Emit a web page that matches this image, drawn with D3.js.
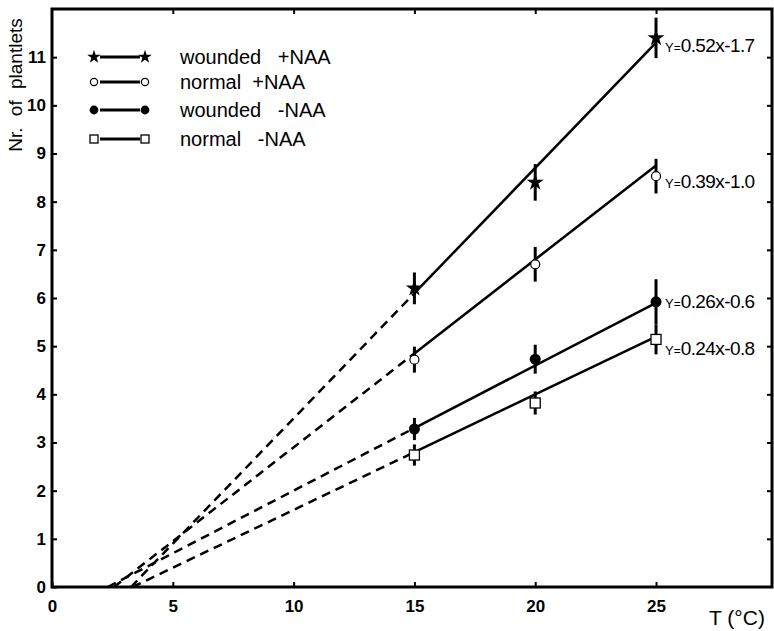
<!DOCTYPE html>
<html>
<head>
<meta charset="utf-8">
<script src="https://cdn.jsdelivr.net/npm/d3@7"></script>
<style>
  body { margin: 0; background: #fff; }
  text { font-family: "Liberation Sans", Arial, sans-serif; fill: #000; }
</style>
</head>
<body>
<script>
// data
var temps = [15, 20, 25];
var seriesNames = ["wounded   +NAA", "normal  +NAA", "wounded   -NAA", "normal   -NAA"];
var markers = ["star", "opencircle", "dot", "square"];
var means = [
  [6.2, 8.4, 11.4],
  [4.72, 6.7, 8.53],
  [3.28, 4.73, 5.92],
  [2.74, 3.82, 5.14]
];
var errs = [
  [0.33, 0.38, 0.42],
  [0.27, 0.36, 0.36],
  [0.23, 0.3, 0.47],
  [0.22, 0.24, 0.31]
];
var slopes = [0.52, 0.39, 0.26, 0.24];
var intercepts = [-1.7, -1.0, -0.6, -0.8];
var eqLabels = ["0.52x-1.7", "0.39x-1.0", "0.26x-0.6", "0.24x-0.8"];
var eqOffset = [8, 6, 0, 10];
var xTicks = [0, 5, 10, 15, 20, 25];
var yTicks = [0, 1, 2, 3, 4, 5, 6, 7, 8, 9, 10, 11];

var w = 774, h = 631;
var padL = 52, padR = 772, padT = 9, padB = 587;

var svg = d3.select("body").append("svg")
  .attr("width", w)
  .attr("height", h);

var x = d3.scaleLinear().domain([0, 29.8]).range([padL, padR]);
var y = d3.scaleLinear().domain([0, 12]).range([padB, padT]);

// frame
svg.append("rect")
  .attr("x", padL).attr("y", padT)
  .attr("width", padR - padL).attr("height", padB - padT)
  .attr("fill", "none").attr("stroke", "#000").attr("stroke-width", 3);

// axes with inward ticks
svg.append("g")
  .attr("transform", "translate(" + padL + ",0)")
  .call(d3.axisLeft(y).tickValues(yTicks).tickSize(-5).tickPadding(6).tickFormat(d3.format("d")));
svg.append("g")
  .attr("transform", "translate(0," + padB + ")")
  .call(d3.axisBottom(x).tickValues(xTicks).tickSize(-5).tickPadding(13).tickFormat(d3.format("d")));
// mirror ticks on top and right
svg.append("g")
  .attr("transform", "translate(0," + padT + ")")
  .call(d3.axisTop(x).tickValues(xTicks.slice(1)).tickSize(-5).tickFormat(""));
svg.append("g")
  .attr("transform", "translate(" + padR + ",0)")
  .call(d3.axisRight(y).tickValues(yTicks.slice(1)).tickSize(-5).tickFormat(""));

svg.selectAll(".domain").remove();
svg.selectAll(".tick line").attr("stroke", "#000").attr("stroke-width", 2);
svg.selectAll(".tick text")
  .style("font-size", "17px").style("font-weight", "bold");

// axis titles
svg.append("text")
  .attr("transform", "translate(22,85) rotate(-90)")
  .attr("text-anchor", "middle")
  .style("font-size", "19px")
  .style("word-spacing", "6px")
  .text("Nr. of plantlets");
svg.append("text")
  .attr("x", 737).attr("y", 625)
  .attr("text-anchor", "middle")
  .style("font-size", "21px")
  .text("T (\u00b0C)");

// regression lines: dashed from zero crossing to 15, solid 15..25
var fit = svg.append("g");
slopes.forEach(function(m, i) {
  var b = intercepts[i];
  var x0 = -b / m;
  fit.append("line")
    .attr("x1", x(x0)).attr("y1", y(0))
    .attr("x2", x(15)).attr("y2", y(m * 15 + b))
    .attr("stroke", "#000").attr("stroke-width", 2.5)
    .attr("stroke-dasharray", "9,6");
  fit.append("line")
    .attr("x1", x(15)).attr("y1", y(m * 15 + b))
    .attr("x2", x(25)).attr("y2", y(m * 25 + b))
    .attr("stroke", "#000").attr("stroke-width", 2.5);
});

function drawMarker(g, type, cx, cy, k) {
  k = k || 1;
  if (type == "star") {
    g.append("path")
      .attr("d", d3.symbol().type(d3.symbolStar).size(90 * k * k)())
      .attr("transform", "translate(" + cx + "," + cy + ")")
      .attr("fill", "#000");
  } else if (type == "opencircle") {
    g.append("circle").attr("cx", cx).attr("cy", cy).attr("r", 4.5 * k)
      .attr("fill", "#fff").attr("stroke", "#000").attr("stroke-width", 1.2);
  } else if (type == "dot") {
    g.append("circle").attr("cx", cx).attr("cy", cy).attr("r", 5.5 * k)
      .attr("fill", "#000");
  } else {
    g.append("rect").attr("x", cx - 5 * k).attr("y", cy - 5 * k)
      .attr("width", 10 * k).attr("height", 10 * k)
      .attr("fill", "#fff").attr("stroke", "#000").attr("stroke-width", 1.3);
  }
}

// error bars and points
var pts = svg.append("g");
means.forEach(function(row, i) {
  row.forEach(function(v, j) {
    pts.append("line")
      .attr("x1", x(temps[j])).attr("x2", x(temps[j]))
      .attr("y1", y(v - errs[i][j])).attr("y2", y(v + errs[i][j]))
      .attr("stroke", "#000").attr("stroke-width", 3);
    drawMarker(pts, markers[i], x(temps[j]), y(v));
  });
});

// equation labels
eqLabels.forEach(function(s, i) {
  var t = svg.append("text")
    .attr("x", x(25) + 9)
    .attr("y", y(means[i][2]) + eqOffset[i] + 6);
  t.append("tspan").style("font-size", "13px").text("Y");
  t.append("tspan").style("font-size", "12px").text("=");
  t.append("tspan").style("font-size", "19px").style("letter-spacing", "-0.6px").text(s);
});

// legend
var legendY = [57, 82, 110, 139];
var lg = svg.append("g");
seriesNames.forEach(function(name, i) {
  var ly = legendY[i];
  lg.append("line")
    .attr("x1", 100).attr("x2", 140).attr("y1", ly).attr("y2", ly)
    .attr("stroke", "#000").attr("stroke-width", 3);
  drawMarker(lg, markers[i], 94, ly, 0.8);
  drawMarker(lg, markers[i], 145, ly, 0.8);
  lg.append("text")
    .attr("x", 180).attr("y", ly + 7)
    .style("font-size", "20px")
    .style("white-space", "pre")
    .text(name);
});
</script>
</body>
</html>
